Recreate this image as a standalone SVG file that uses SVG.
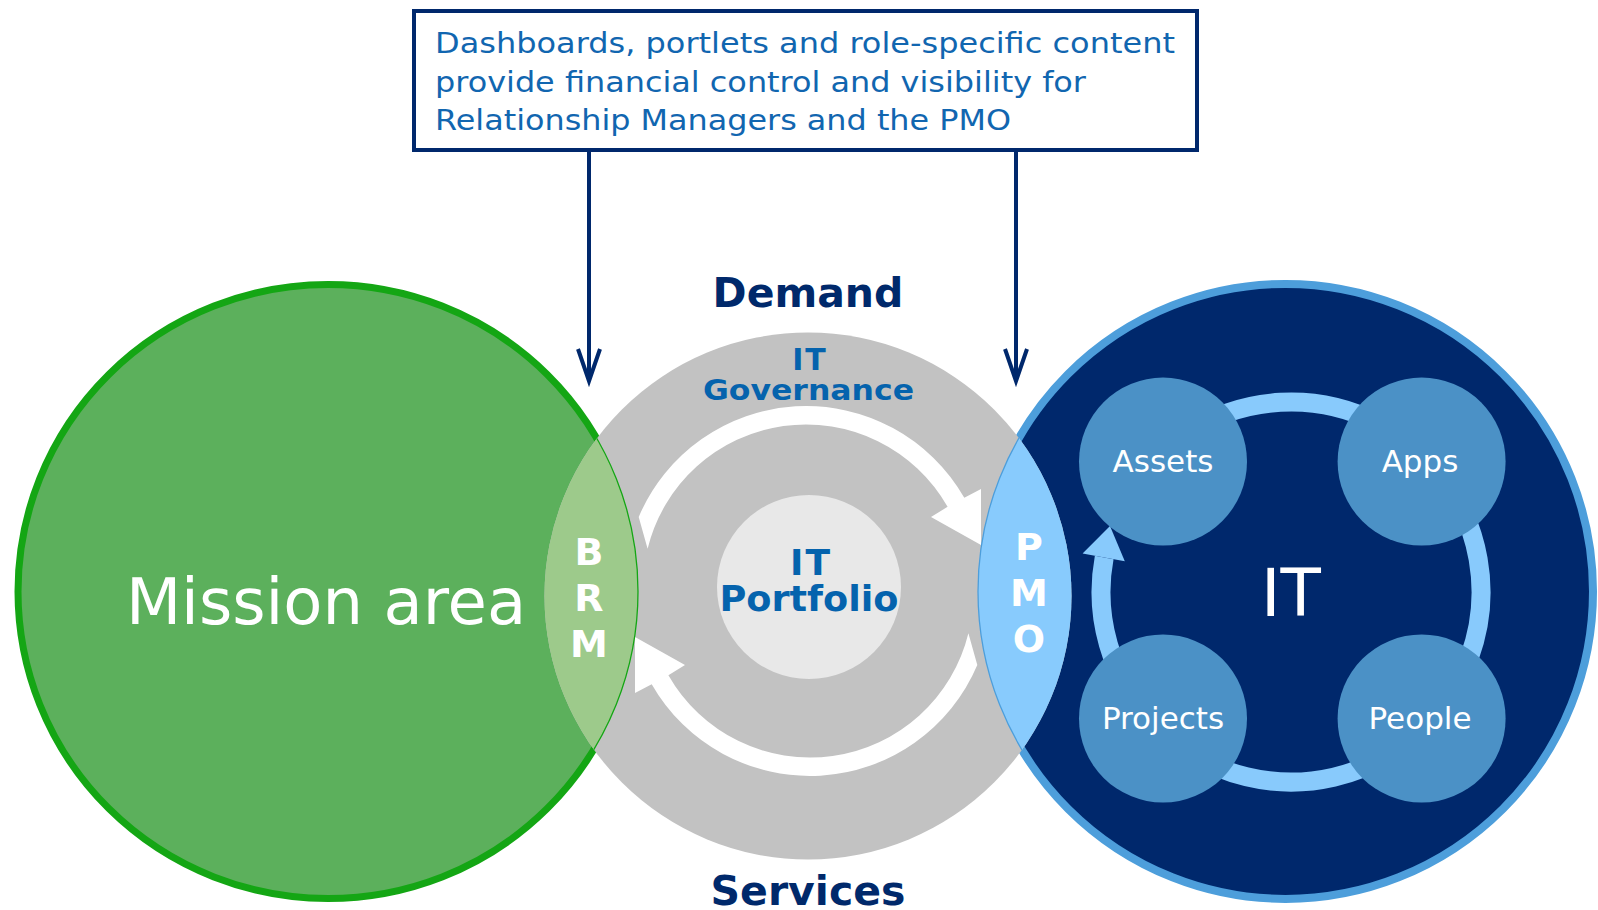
<svg xmlns="http://www.w3.org/2000/svg" width="1598" height="910" viewBox="0 0 1598 910">
<style>
.t{font-family:"DejaVu Sans","Liberation Sans",sans-serif}
.b{font-weight:bold}
.w{fill:#ffffff}
.navy{fill:#00296b}
.blue{fill:#0563ad}
.callout{fill:#1166b0;font-size:29px}
.node{fill:#4b91c6}
.conn{stroke:#00286c;stroke-width:4;fill:none}
</style>
<defs>
<marker id="vhead" markerUnits="userSpaceOnUse" viewBox="-36 -15 46 30" refX="0" refY="0" markerWidth="46" markerHeight="30" orient="auto">
<path d="M-32,-11 L0,0 L-32,11" fill="none" stroke="#00286c" stroke-width="4" stroke-linejoin="miter" stroke-miterlimit="10"/>
</marker>
<clipPath id="clipGreen"><ellipse cx="328" cy="591.5" rx="310" ry="307"/></clipPath>
<clipPath id="clipBlue"><circle cx="1285.5" cy="591.4" r="307.5"/></clipPath>
<clipPath id="clipGray"><circle cx="808" cy="596" r="263.5"/></clipPath>
</defs>
<rect width="1598" height="910" fill="#ffffff"/>

<g id="mission-area">
<ellipse cx="328" cy="591.5" rx="310" ry="307" fill="#5cb05c" stroke="#14a614" stroke-width="7"/>
<text class="t w" x="326" y="624" font-size="64" text-anchor="middle">Mission area</text>
</g>

<g id="it">
<circle cx="1285.5" cy="591.4" r="307.5" fill="#00286c" stroke="#4d9edb" stroke-width="8"/>
</g>

<g id="governance">
<circle cx="808" cy="596" r="263.5" fill="#c2c2c2"/>
<path d="M638.7 517 A182 182 0 0 1 964.3 497.8 L981 489 L981 545 L931 517 L947.6 506.8 A163 163 0 0 0 647.6 548.8 Z" fill="#ffffff"/>
<path d="M638.7 517 A182 182 0 0 1 964.3 497.8 L981 489 L981 545 L931 517 L947.6 506.8 A163 163 0 0 0 647.6 548.8 Z" fill="#ffffff" transform="rotate(180 808 591)"/>
<text class="t b blue" x="810" y="370" font-size="30" text-anchor="middle" letter-spacing="2">IT</text>
<text class="t b blue" x="808.5" y="400" font-size="29" text-anchor="middle" textLength="211" lengthAdjust="spacingAndGlyphs">Governance</text>
</g>

<g id="portfolio">
<circle cx="809" cy="587" r="92" fill="#e8e8e8"/>
<text class="t b blue" x="811" y="575" font-size="36" text-anchor="middle" letter-spacing="2">IT</text>
<text class="t b blue" x="809" y="611" font-size="36" text-anchor="middle" textLength="179" lengthAdjust="spacingAndGlyphs">Portfolio</text>
</g>

<g id="brm">
<ellipse cx="808" cy="596" rx="263.5" ry="263.5" fill="#9dca8b" clip-path="url(#clipGreen)"/>
<ellipse cx="328" cy="591.5" rx="310" ry="307" fill="none" stroke="#14a614" stroke-width="1.3" clip-path="url(#clipGray)"/>
<text class="t b w" x="589" y="564.5" font-size="38" text-anchor="middle">B</text>
<text class="t b w" x="589" y="610.5" font-size="38" text-anchor="middle">R</text>
<text class="t b w" x="589" y="656.5" font-size="38" text-anchor="middle">M</text>
</g>

<g id="pmo">
<circle cx="808" cy="596" r="263.5" fill="#88cbfd" clip-path="url(#clipBlue)"/>
<circle cx="1285.5" cy="591.4" r="307.5" fill="none" stroke="#4d9edb" stroke-width="1.3" clip-path="url(#clipGray)"/>
<text class="t b w" x="1029" y="559.5" font-size="38" text-anchor="middle">P</text>
<text class="t b w" x="1029" y="605.5" font-size="38" text-anchor="middle">M</text>
<text class="t b w" x="1029" y="651.5" font-size="38" text-anchor="middle">O</text>
</g>

<g id="it-cycle">
<path d="M1126.5 497 A190 190 0 1 1 1104.2 557.4" fill="none" stroke="#88cafc" stroke-width="19"/>
<polygon points="1110,526 1082.6,553.6 1124.8,561.2" fill="#88cafc"/>
<text class="t w" x="1291" y="615.5" font-size="66" text-anchor="middle">IT</text>
</g>

<g id="assets">
<circle class="node" cx="1163" cy="461.6" r="84"/>
<text class="t w" x="1163" y="472" font-size="31" text-anchor="middle">Assets</text>
</g>
<g id="apps">
<circle class="node" cx="1421.6" cy="461.6" r="84"/>
<text class="t w" x="1420" y="472" font-size="31" text-anchor="middle">Apps</text>
</g>
<g id="projects">
<circle class="node" cx="1163" cy="718.5" r="84"/>
<text class="t w" x="1163" y="729" font-size="31" text-anchor="middle">Projects</text>
</g>
<g id="people">
<circle class="node" cx="1421.6" cy="718.5" r="84"/>
<text class="t w" x="1420" y="729" font-size="31" text-anchor="middle">People</text>
</g>

<g id="demand">
<text class="t b navy" x="808" y="306.5" font-size="41" text-anchor="middle">Demand</text>
</g>
<g id="services">
<text class="t b navy" x="808" y="905" font-size="41" text-anchor="middle">Services</text>
</g>

<g id="callout">
<rect x="414" y="11" width="783" height="139" fill="#ffffff" stroke="#00286c" stroke-width="4"/>
<text class="t callout" x="435" y="53" textLength="740" lengthAdjust="spacingAndGlyphs">Dashboards, portlets and role-specific content</text>
<text class="t callout" x="435" y="91.5" textLength="651" lengthAdjust="spacingAndGlyphs">provide financial control and visibility for</text>
<text class="t callout" x="435" y="130" textLength="576" lengthAdjust="spacingAndGlyphs">Relationship Managers and the PMO</text>
</g>

<g id="connectors">
<line class="conn" x1="589" y1="152" x2="589" y2="381" marker-end="url(#vhead)"/>
<line class="conn" x1="1016" y1="152" x2="1016" y2="381" marker-end="url(#vhead)"/>
</g>
</svg>
